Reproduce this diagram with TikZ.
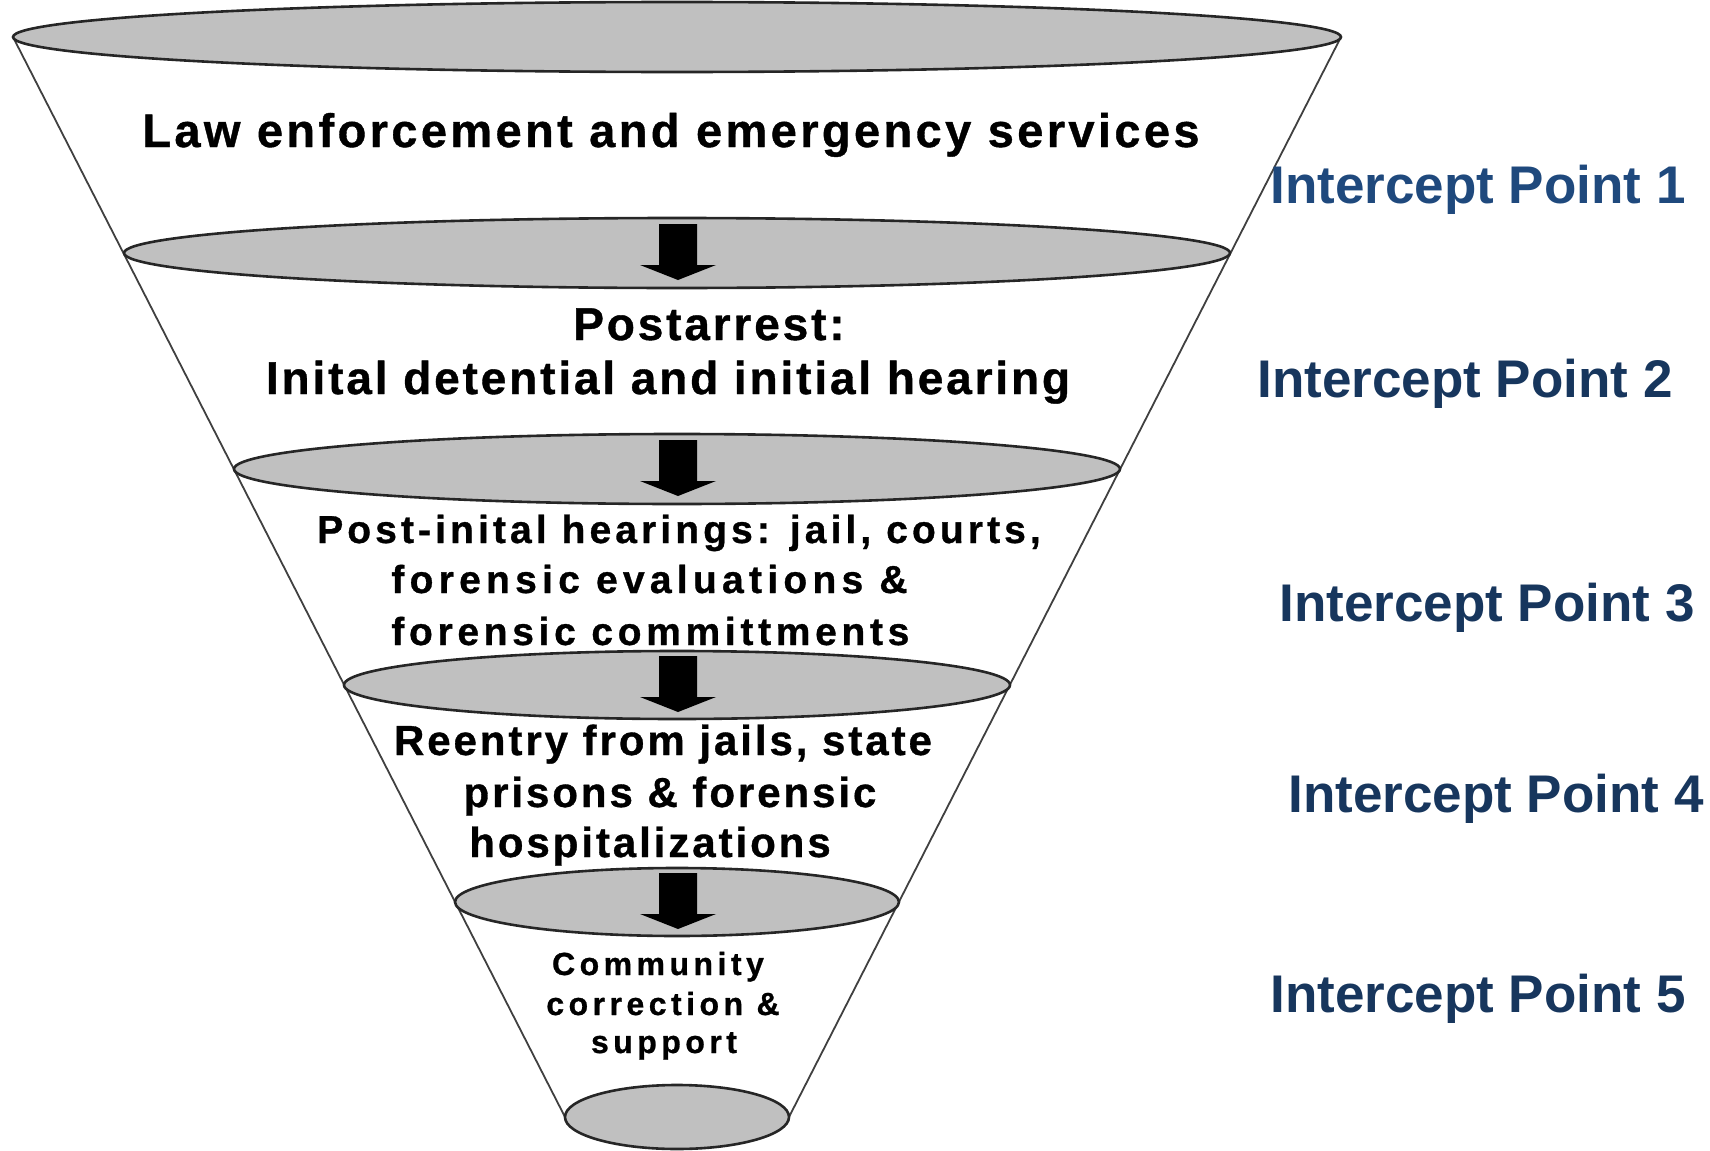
\documentclass[tikz,border=0pt]{standalone}
\usepackage{fontspec}
\setmainfont{Liberation Sans}
\newfontfamily\fa[LetterSpace=7.2,BoldFeatures={FakeBold=0.8}]{Liberation Sans}
\newfontfamily\fb[LetterSpace=6.2,BoldFeatures={FakeBold=0.8}]{Liberation Sans}
\newfontfamily\fc[LetterSpace=10.5,BoldFeatures={FakeBold=0.8}]{Liberation Sans}
\newfontfamily\fcb[LetterSpace=13.5,BoldFeatures={FakeBold=0.8}]{Liberation Sans}
\newfontfamily\fcc[LetterSpace=12,BoldFeatures={FakeBold=0.8}]{Liberation Sans}
\newfontfamily\fd[LetterSpace=7,BoldFeatures={FakeBold=0.8}]{Liberation Sans}
\newfontfamily\fe[LetterSpace=14,BoldFeatures={FakeBold=0.8}]{Liberation Sans}
\definecolor{ellgray}{RGB}{192,192,192}
\definecolor{ipblue}{RGB}{31,73,125}
\definecolor{ipdark}{RGB}{23,54,93}
\tikzset{
  ell/.style={draw=black!85, line width=1.3pt, fill=ellgray},
  side/.style={draw=black!75, line width=0.9pt},
  txt/.style={anchor=base, inner sep=0pt, text=black, font=\bfseries},
  iplabel/.style={anchor=base, inner sep=0pt, font=\bfseries\fontsize{26.5}{30}\selectfont},
  blockarrow/.style={fill=black}
}
\begin{document}
\begin{tikzpicture}[x=0.5pt,y=-0.5pt]
\useasboundingbox (0,0) rectangle (1710,1151);
% ellipse centres
\coordinate (e1) at (677,37);
\coordinate (e2) at (677,253);
\coordinate (e3) at (677,469);
\coordinate (e4) at (677,685);
\coordinate (e5) at (677,902);
\coordinate (e6) at (677,1117);
% funnel sides
\coordinate (lt) at (13,37);
\coordinate (lb) at (565,1117);
\coordinate (rt) at (1341,37);
\coordinate (rb) at (789,1117);
\draw[side] (lt) -- (lb);
\draw[side] (rt) -- (rb);
% ellipses
\draw[ell] (e1) ellipse [x radius=664, y radius=35];
\draw[ell] (e2) ellipse [x radius=553, y radius=35];
\draw[ell] (e3) ellipse [x radius=443, y radius=35];
\draw[ell] (e4) ellipse [x radius=333, y radius=34];
\draw[ell] (e5) ellipse [x radius=222, y radius=34];
\draw[ell] (e6) ellipse [x radius=112, y radius=32];
% block arrows
\foreach \e in {e2,e3,e4,e5}{
  \fill[blockarrow] (\e) ++(1,0) ++(-19,-29) -- ++(38,0) -- ++(0,41) -- ++(19,0)
     -- ++(-38,15) -- ++(-38,-15) -- ++(19,0) -- cycle;
}
% texts
\node[txt] (t1) at (671,147) {\fa\bfseries\fontsize{23.5}{28}\selectfont Law enforcement and emergency services};
\node[txt] (t2a) at (709,340) {\fb\bfseries\fontsize{23}{28}\selectfont Postarrest:};
\node[txt] (t2b) at (668,394) {\fb\bfseries\fontsize{23}{28}\selectfont Inital detential and initial hearing};
\node[txt] (t3a) at (679,543) {\fc\bfseries\fontsize{19.5}{24}\selectfont Post-inital hearings: jail, courts,};
\node[txt, anchor=base west] (t3b) at (391,593) {\fcb\bfseries\fontsize{19.5}{24}\selectfont forensic evaluations \&};
\node[txt, anchor=base west] (t3c) at (391,645) {\fcc\bfseries\fontsize{19.5}{24}\selectfont forensic committments};
\node[txt] (t4a) at (663,755) {\fd\bfseries\fontsize{21}{25}\selectfont Reentry from jails, state};
\node[txt] (t4b) at (670,807) {\fd\bfseries\fontsize{21}{25}\selectfont prisons \& forensic};
\node[txt] (t4c) at (650,857) {\fd\bfseries\fontsize{21}{25}\selectfont hospitalizations};
\node[txt] (t5a) at (658,975) {\fe\bfseries\fontsize{16}{18}\selectfont Community};
\node[txt] (t5b) at (663,1015) {\fe\bfseries\fontsize{16}{18}\selectfont correction \&};
\node[txt] (t5c) at (664,1053) {\fe\bfseries\fontsize{16}{18}\selectfont support};
% intercept labels
\node[iplabel, text=ipblue] (ip1) at (1478,203) {Intercept Point 1};
\node[iplabel, text=ipdark] (ip2) at (1465,397) {Intercept Point 2};
\node[iplabel, text=ipdark] (ip3) at (1487,621) {Intercept Point 3};
\node[iplabel, text=ipdark] (ip4) at (1496,812) {Intercept Point 4};
\node[iplabel, text=ipdark] (ip5) at (1478,1012) {Intercept Point 5};
\end{tikzpicture}
\end{document}
